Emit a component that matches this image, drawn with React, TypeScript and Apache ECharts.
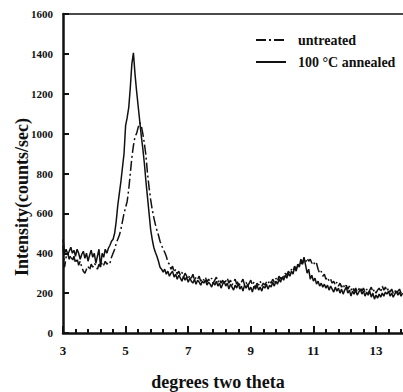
import React, { useEffect, useRef } from "react";
import * as echarts from "echarts";

// two-theta sampling (degrees)
const thetaStart = 3;
const thetaStep = 0.05;

// 100 °C annealed (solid), counts/sec, one value every 0.05° from 3.00°
const annealed: number[] = [
  470, 400, 420, 395, 410, 430, 400, 415, 385, 420, // 3.00
  400, 370, 395, 410, 375, 400, 360, 390, 415, 380, // 3.50
  400, 350, 385, 420, 330, 400, 380, 420, 400, 425, // 4.00
  440, 460, 470, 500, 560, 640, 700, 760, 830, 900, // 4.50
  1040, 1080, 1130, 1230, 1350, 1405, 1300, 1215, 1140, 1065, // 5.00
  990, 925, 850, 760, 680, 600, 520, 470, 430, 405, // 5.50
  385, 360, 330, 320, 305, 320, 295, 310, 285, 300, // 6.00
  310, 280, 295, 270, 290, 275, 260, 285, 265, 280, // 6.50
  255, 275, 260, 250, 270, 245, 265, 255, 240, 260, // 7.00
  250, 265, 240, 255, 245, 230, 255, 240, 260, 235, // 7.50
  250, 225, 245, 260, 235, 250, 220, 245, 230, 215, // 8.00
  240, 225, 250, 220, 235, 210, 240, 225, 245, 215, // 8.50
  230, 205, 235, 220, 240, 215, 230, 210, 235, 225, // 9.00
  245, 220, 240, 230, 255, 235, 260, 245, 270, 255, // 9.50
  280, 265, 290, 275, 300, 285, 310, 295, 330, 310, // 10.00
  345, 330, 370, 350, 380, 340, 300, 320, 270, 290, // 10.50
  260, 275, 245, 260, 235, 250, 230, 245, 225, 240, // 11.00
  215, 235, 220, 205, 230, 210, 225, 200, 220, 195, // 11.50
  215, 230, 200, 215, 185, 210, 195, 215, 190, 205, // 12.00
  220, 195, 210, 185, 205, 190, 210, 180, 200, 170, // 12.50
  190, 175, 195, 180, 200, 185, 205, 195, 210, 185, // 13.00
  200, 180, 195, 210, 190, 205, 185, 200, // 13.50
];

// untreated (dash-dot), counts/sec, same sampling
const untreated: number[] = [
  440, 330, 380, 400, 370, 390, 360, 385, 350, 375, // 3.00
  340, 360, 330, 310, 300, 320, 335, 315, 345, 330, // 3.50
  350, 340, 320, 345, 330, 355, 340, 360, 345, 355, // 4.00
  350, 380, 400, 420, 450, 470, 490, 520, 560, 600, // 4.50
  630, 660, 720, 800, 880, 940, 985, 1000, 1030, 1055, // 5.00
  1040, 1000, 950, 890, 800, 730, 670, 620, 580, 545, // 5.50
  515, 490, 460, 440, 420, 405, 385, 355, 345, 320, // 6.00
  335, 305, 320, 295, 310, 290, 305, 280, 300, 285, // 6.50
  270, 290, 275, 295, 265, 280, 270, 285, 260, 275, // 7.00
  265, 280, 255, 270, 260, 275, 250, 265, 280, 255, // 7.50
  270, 250, 265, 245, 260, 275, 250, 265, 240, 255, // 8.00
  270, 245, 260, 240, 255, 270, 240, 255, 235, 250, // 8.50
  265, 240, 255, 230, 250, 240, 260, 235, 250, 240, // 9.00
  255, 245, 265, 250, 270, 255, 275, 260, 285, 270, // 9.50
  290, 280, 300, 290, 310, 300, 320, 310, 335, 320, // 10.00
  345, 335, 355, 345, 370, 355, 375, 360, 370, 350, // 10.50
  360, 340, 350, 320, 300, 310, 285, 295, 270, 280, // 11.00
  260, 270, 250, 260, 240, 255, 235, 250, 230, 245, // 11.50
  225, 240, 220, 235, 215, 230, 210, 225, 205, 220, // 12.00
  230, 210, 225, 205, 220, 200, 215, 230, 205, 220, // 12.50
  200, 215, 225, 205, 235, 215, 230, 210, 225, 205, // 13.00
  220, 200, 215, 195, 210, 220, 200, 215, // 13.50
];

const seriesNames = ["untreated", "100 °C annealed"];
const xTitle = "degrees two theta";
const yTitle = "Intensity(counts/sec)";

const FONT = "'Liberation Serif', 'Times New Roman', serif";

const toPairs = (vals: number[]) =>
  vals.map((v, i) => [Number((thetaStart + i * thetaStep).toFixed(2)), v]);

export default function App() {
  const ref = useRef<HTMLDivElement>(null);

  useEffect(() => {
    if (!ref.current) return;
    const chart = echarts.init(ref.current, null, { renderer: "svg" });
    const xAxisBase = {
      type: "value" as const,
      min: 3,
      max: 15,
      interval: 2,
    };
    chart.setOption({
      animation: false,
      backgroundColor: "#ffffff",
      grid: {
        left: 63,
        top: 14,
        bottom: 59,
        right: -35.6,
        containLabel: false,
        outerBoundsMode: "none",
      },
      legend: {
        data: seriesNames,
        orient: "vertical",
        left: 255,
        top: 33,
        itemWidth: 30,
        itemHeight: 14,
        itemGap: 8,
        padding: 0,
        itemStyle: {
          color: "rgba(0,0,0,0)",
          borderColor: "rgba(0,0,0,0)",
          borderWidth: 0,
          opacity: 0,
        },
        textStyle: {
          fontFamily: FONT,
          fontWeight: "bold",
          fontSize: 14,
          color: "#111",
          padding: [0, 0, 0, 7],
        },
      },
      xAxis: [
        {
          ...xAxisBase,
          position: "bottom",
          axisLine: { show: true, lineStyle: { color: "#111", width: 2.5 } },
          axisTick: {
            show: true,
            inside: true,
            length: 7,
            lineStyle: { color: "#111", width: 2 },
          },
          minorTick: {
            show: true,
            splitNumber: 5,
            length: 4,
            lineStyle: { color: "#111", width: 2 },
          },
          axisLabel: {
            show: true,
            margin: 11,
            fontFamily: FONT,
            fontWeight: "bold",
            fontSize: 13,
            color: "#111",
            showMaxLabel: false,
            formatter: (v: number) => String(v),
          },
          splitLine: { show: false },
        },
        {
          ...xAxisBase,
          position: "top",
          axisLine: { show: true, lineStyle: { color: "#111", width: 1.5 } },
          axisTick: { show: false },
          axisLabel: { show: false },
          splitLine: { show: false },
        },
      ],
      yAxis: {
        type: "value",
        min: 0,
        max: 1600,
        interval: 200,
        axisLine: { show: true, lineStyle: { color: "#111", width: 2.5 } },
        axisTick: {
          show: true,
          inside: true,
          length: 6,
          lineStyle: { color: "#111", width: 2 },
        },
        axisLabel: {
          margin: 10,
          fontFamily: FONT,
          fontWeight: "bold",
          fontSize: 11,
          color: "#111",
          formatter: (v: number) => String(v),
        },
        splitLine: { show: false },
      },
      graphic: [
        {
          type: "text",
          x: 218,
          y: 382,
          style: {
            text: xTitle,
            fontFamily: FONT,
            fontWeight: "bold",
            fontSize: 18,
            fill: "#111",
            textAlign: "center",
            textVerticalAlign: "middle",
          },
        },
        {
          type: "text",
          x: 21.5,
          y: 197,
          rotation: Math.PI / 2,
          style: {
            text: yTitle,
            fontFamily: FONT,
            fontWeight: "bold",
            fontSize: 18,
            fill: "#111",
            textAlign: "center",
            textVerticalAlign: "middle",
          },
        },
      ],
      series: [
        {
          name: seriesNames[0],
          type: "line",
          data: toPairs(untreated),
          showSymbol: false,
          symbol: "none",
          lineStyle: { color: "#111", width: 1.5, type: [10, 3, 2, 3] },
          itemStyle: { color: "#111" },
          z: 3,
        },
        {
          name: seriesNames[1],
          type: "line",
          data: toPairs(annealed),
          showSymbol: false,
          symbol: "none",
          lineStyle: { color: "#111", width: 1.5 },
          itemStyle: { color: "#111" },
          z: 4,
        },
      ],
    });
    return () => chart.dispose();
  }, []);

  return (
    <div
      ref={ref}
      style={{ position: "absolute", left: 0, top: 0, width: 403, height: 392, background: "#fff" }}
    />
  );
}
